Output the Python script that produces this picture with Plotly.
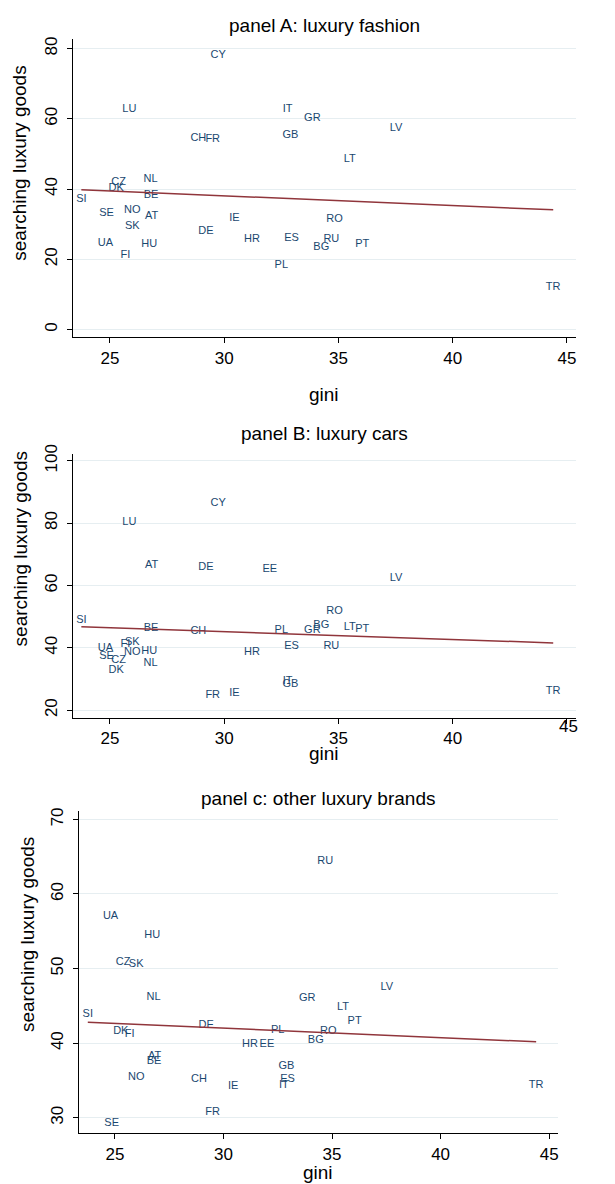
import numpy as np
import plotly.graph_objects as go

countries = ["SI", "UA", "SE", "DK", "CZ", "FI", "LU", "NO", "SK", "HU", "NL", "BE", "AT",
             "CH", "DE", "FR", "CY", "IE", "HR", "EE", "PL", "IT", "GB", "ES", "GR", "BG",
             "RU", "RO", "LT", "PT", "LV", "TR"]
gini = [23.75, 24.8, 24.85, 25.27, 25.38, 25.68, 25.85, 25.98, 25.98, 26.72, 26.78, 26.8, 26.83,
        28.87, 29.2, 29.5, 29.74, 30.45, 31.22, 32.0, 32.5, 32.78, 32.9, 32.95, 33.86, 34.25,
        34.69, 34.83, 35.5, 36.04, 37.52, 44.4]
fashion = [37.0, 24.7, 33.1, 40.2, 41.9, 21.2, 62.6, 34.0, 29.5, 24.2, 42.9, 38.2, 32.3,
           54.4, 28.1, 54.2, 78.0, 31.7, 25.8, None, 18.2, 62.8, 55.2, 26.0, 60.3, 23.5,
           25.8, 31.5, 48.5, 24.2, 57.2, 12.1]
cars = [48.7, 39.9, 37.3, 32.8, 36.0, 41.0, 80.4, 38.7, 41.8, 38.9, 35.0, 46.3, 66.6,
        45.2, 65.9, 24.9, 86.4, 25.3, 38.5, 65.2, 45.5, 29.3, 28.2, 40.4, 45.5, 47.1,
        40.4, 51.9, 46.6, 46.0, 62.4, 26.1]
other = [43.9, 57.0, 29.2, 41.6, 50.9, 41.2, None, 35.4, 50.6, 54.5, 46.2, 37.6, 38.2,
         35.2, 42.4, 30.7, None, 34.2, 39.9, 39.9, 41.7, 34.4, 36.9, 35.2, 46.0, 40.4,
         64.4, 41.6, 44.8, 42.9, 47.5, 34.4]

titles = ["panel A: luxury fashion", "panel B: luxury cars", "panel c: other luxury brands"]
ytitle = "searching luxury goods"
xtitle = "gini"
xticks = [25, 30, 35, 40, 45]
yticks = [[0, 20, 40, 60, 80], [20, 40, 60, 80, 100], [30, 40, 50, 60, 70]]

OFF = 8  # default page body margin
W, H = 615 - OFF, 1184 - OFF
FONT = "Liberation Sans, Arial, sans-serif"
LABEL_COLOR = "#1a476f"
FIT_COLOR = "#90353b"

# layout in page pixels: (left, right, top, bottom), axis ranges
panels = [
    dict(px=(73, 577, 29, 330), xr=[23.38, 45.4], yr=[-2.2, 82.8],
         title_y=16, xt_y=388, yt=(20, 154)),
    dict(px=(73, 577, 448, 714), xr=[23.38, 45.4], yr=[17.5, 102.1],
         title_y=427, xt_y=750, yt=(20, 543)),
    dict(px=(79, 559, 808, 1133), xr=[23.34, 45.41], yr=[27.9, 71.1],
         title_y=795, xt_y=1172, yt=(27, 932)),
]
series = [fashion, cars, other]


def fx_(px):
    return (px - OFF) / W


def fy_(py):
    return 1 - (py - OFF) / H


fig = go.Figure()
annotations = []
layout = dict(width=W, height=H, margin=dict(l=0, r=0, t=0, b=0), autosize=False,
              paper_bgcolor="white", plot_bgcolor="white", showlegend=False,
              font=dict(family=FONT, color="black"))

for i, (p, vals) in enumerate(zip(panels, series)):
    n = "" if i == 0 else str(i + 1)
    xa, ya = "x" + n, "y" + n
    xs = [g for g, v in zip(gini, vals) if v is not None]
    ys = [v for v in vals if v is not None]
    labs = [c for c, v in zip(countries, vals) if v is not None]
    fig.add_trace(go.Scatter(x=xs, y=ys, text=labs, mode="text", textposition="middle center",
                             textfont=dict(family=FONT, size=11, color=LABEL_COLOR),
                             xaxis=xa, yaxis=ya, hoverinfo="skip"))
    slope, icpt = np.polyfit(xs, ys, 1)
    fx = np.array([min(xs), max(xs)])
    fig.add_trace(go.Scatter(x=fx, y=icpt + slope * fx, mode="lines",
                             line=dict(color=FIT_COLOR, width=1.5),
                             xaxis=xa, yaxis=ya, hoverinfo="skip"))
    l, r, t, b = p["px"]
    ticktext = [str(v) for v in xticks]
    if i == 1:
        ticktext[-1] = ""  # drawn separately, raised, as in the reference
        annotations.append(dict(text=str(xticks[-1]), x=xticks[-1] + 0.07, xref="x2",
                                y=fy_(723), yref="paper", showarrow=False,
                                xanchor="center", yanchor="middle",
                                font=dict(family=FONT, size=17, color="black")))
    layout["xaxis" + n] = dict(domain=[fx_(l), fx_(r)], range=p["xr"], anchor=ya,
                               tickvals=xticks, ticktext=ticktext,
                               ticks="outside", ticklen=5, tickcolor="black",
                               showline=True, linecolor="black", linewidth=1,
                               showgrid=False, zeroline=False,
                               tickfont=dict(family=FONT, size=17, color="black"))
    layout["yaxis" + n] = dict(domain=[fy_(b), fy_(t)], range=p["yr"], anchor=xa,
                               tickvals=yticks[i], ticks="outside", ticklen=5, tickcolor="black",
                               tickangle=-90, ticklabelstandoff=3,
                               showline=True, linecolor="black", linewidth=1,
                               showgrid=True, gridcolor="#e6eef1", gridwidth=1, zeroline=False,
                               tickfont=dict(family=FONT, size=17, color="black"))
    annotations.append(dict(text=titles[i], x=fx_((l + r) / 2), y=fy_(p["title_y"]),
                            xref="paper", yref="paper", showarrow=False,
                            xanchor="center", yanchor="middle",
                            font=dict(family=FONT, size=19, color="black")))
    annotations.append(dict(text=xtitle, x=fx_((l + r) / 2), y=fy_(p["xt_y"]),
                            xref="paper", yref="paper", showarrow=False,
                            xanchor="center", yanchor="middle",
                            font=dict(family=FONT, size=19, color="black")))
    annotations.append(dict(text=ytitle, x=fx_(p["yt"][0]), y=fy_(p["yt"][1]),
                            xref="paper", yref="paper", showarrow=False, textangle=-90,
                            xanchor="center", yanchor="middle",
                            font=dict(family=FONT, size=19, color="black")))

layout["annotations"] = annotations
fig.update_layout(**layout)
fig.write_html("out.html")
